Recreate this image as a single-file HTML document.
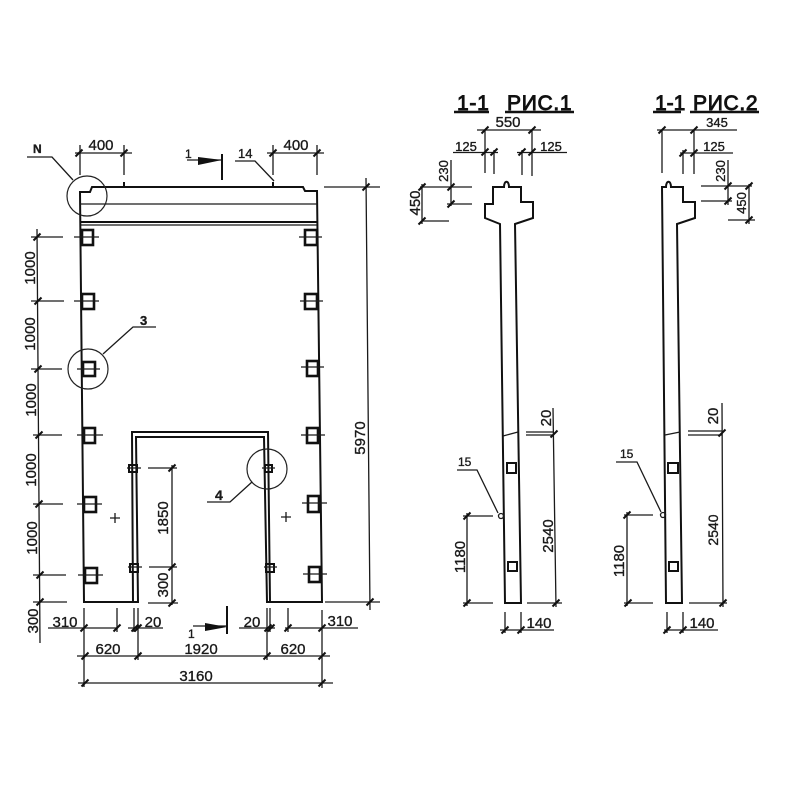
<!DOCTYPE html>
<html lang="ru">
<head>
<meta charset="utf-8">
<title>Чертёж панели</title>
<style>
html,body{margin:0;padding:0;background:#fff;width:800px;height:800px;overflow:hidden}
svg{display:block;filter:blur(.35px)}
text{font-family:"Liberation Sans",sans-serif;font-size:15px;fill:#1a1a1a;stroke:#1a1a1a;stroke-width:.35}
.m{text-anchor:middle}
.l{fill:none;stroke:#1a1a1a;stroke-width:1.3}
.k{fill:none;stroke:#111;stroke-width:2}
.h{fill:none;stroke:#111;stroke-width:2.6}
.c{fill:none;stroke:#222;stroke-width:1.2}
.ti{font-size:21px;stroke-width:.9;fill:#111;stroke:#111;letter-spacing:.7px}
</style>
</head>
<body>
<svg width="800" height="800" viewBox="0 0 800 800" xmlns="http://www.w3.org/2000/svg">
<defs><path id="t" d="M-3.5 3.5L3.5-3.5" fill="none" stroke="#111" stroke-width="2"/></defs>

<!-- Main panel outline -->
<path class="k" d="M84 602L80 192H90L92 187H303L305 191H317L322 602H267L264 437H136L138 602Z"/>
<path class="k" d="M133 602L132 432H268L270 602" stroke-width="1.8"/>
<path class="l" d="M80 204H317"/>
<path class="k" d="M80 222H317"/>
<path class="l" d="M80 225H317"/>
<path class="k" d="M124 187v-5M273 187v-5"/>

<!-- Big inserts -->
<g class="h">
<rect class="h" x="82" y="230" width="11" height="15"/>
<rect class="h" x="82" y="294" width="12" height="15"/>
<rect class="h" x="83" y="362" width="12" height="14"/>
<rect class="h" x="84" y="428" width="11" height="15"/>
<rect class="h" x="84" y="497" width="12" height="15"/>
<rect class="h" x="85" y="568" width="12" height="15"/>
<rect class="h" x="305" y="230" width="12" height="15"/>
<rect class="h" x="305" y="294" width="12" height="15"/>
<rect class="h" x="307" y="361" width="11" height="15"/>
<rect class="h" x="307" y="428" width="11" height="15"/>
<rect class="h" x="308" y="496" width="11" height="16"/>
<rect class="h" x="309" y="567" width="11" height="15"/>
</g>
<path class="l" d="M74 237H99M74 301H99M77 369H100M77 435H103M77 504H102M78 575H103M299 237H322M300 301H323M301 367H324M301 435H325M302 503H327M303 574H327"/>

<!-- Small inserts -->
<rect class="k" x="129" y="465" width="8" height="7" stroke-width="1.5"/>
<rect class="k" x="130" y="564" width="8" height="8" stroke-width="1.5"/>
<rect class="k" x="265" y="465" width="7" height="7" stroke-width="1.5"/>
<rect class="k" x="266" y="564" width="8" height="8" stroke-width="1.5"/>
<path class="l" d="M127 468H141M128 567H142M262 468H275M264 567H277"/>
<path class="l" d="M110 518H120M115 513V523M281 517H291M286 512V522"/>

<!-- Circles -->
<circle class="c" cx="87" cy="196" r="20"/>
<circle class="c" cx="88" cy="369" r="20"/>
<circle class="c" cx="267" cy="469" r="20"/>
<path class="l" d="M27 157H52L73 180M156 327H133L103 354M207 502H230L252 482M235 161H255L274 181"/>
<text x="33" y="153" style="font-size:12px;font-weight:bold">N</text>
<text x="140" y="325" style="font-size:13px;font-weight:bold">3</text>
<text x="215" y="500" style="font-size:14px;font-weight:bold">4</text>
<text x="238" y="158" style="font-size:13px">14</text>

<!-- Section arrows -->
<path class="l" d="M187 160H222"/>
<path d="M198 157L222 160L198 165Z" fill="#111"/>
<path class="k" d="M222 154V180"/>
<text x="185" y="158" style="font-size:12px">1</text>
<path class="l" d="M193 626H227"/>
<path d="M205 623L227 627L205 631Z" fill="#111"/>
<path class="k" d="M227 606V634"/>
<text x="188" y="638" style="font-size:12px">1</text>

<!-- Top dims -->
<path class="l" d="M75 153H132M267 153H324M80 145V175M124 145V175M273 145V175M317 145V175"/>
<use href="#t" x="79" y="153"/><use href="#t" x="124" y="153"/><use href="#t" x="273" y="153"/><use href="#t" x="317" y="153"/>
<text class="m" x="101" y="150">400</text>
<text class="m" x="296" y="150">400</text>

<!-- Left dims -->
<path class="l" d="M37 229L40 643M31 237H63M31 301H64M31 369H62M33 435H62M33 504H63M33 575H66M33 602H67"/>
<use href="#t" x="37" y="237"/><use href="#t" x="38" y="301"/><use href="#t" x="38" y="369"/><use href="#t" x="39" y="435"/><use href="#t" x="39" y="504"/><use href="#t" x="40" y="575"/><use href="#t" x="40" y="602"/>
<text class="m" transform="translate(35,268) rotate(-90)">1000</text>
<text class="m" transform="translate(35,334) rotate(-90)">1000</text>
<text class="m" transform="translate(36,400) rotate(-90)">1000</text>
<text class="m" transform="translate(36,470) rotate(-90)">1000</text>
<text class="m" transform="translate(37,538) rotate(-90)">1000</text>
<text class="m" transform="translate(38,621) rotate(-90)">300</text>

<!-- Right 5970 -->
<path class="l" d="M366 178L370 610M324 187H380M325 602H380"/>
<use href="#t" x="366" y="187"/><use href="#t" x="370" y="602"/>
<text class="m" transform="translate(365,438) rotate(-90)">5970</text>

<!-- Opening dims -->
<path class="l" d="M172 465V605M148 468H177M149 567H177M148 603H178"/>
<use href="#t" x="172" y="468"/><use href="#t" x="172" y="567"/><use href="#t" x="172" y="603"/>
<text class="m" transform="translate(168,518) rotate(-90)">1850</text>
<text class="m" transform="translate(168,585) rotate(-90)">300</text>

<!-- Bottom dims -->
<path class="l" d="M48 628H118M128 628H163M239 628H275M285 628H358M77 656H330M78 683H333"/>
<path class="l" d="M84 608V687M117 608V632M134 608V632M138 608V660M267 608V660M270 608V632M288 608V632M322 610V688"/>
<use href="#t" x="84" y="628"/><use href="#t" x="117" y="628"/><use href="#t" x="135" y="628"/><use href="#t" x="138" y="628"/><use href="#t" x="268" y="628"/><use href="#t" x="271" y="628"/><use href="#t" x="288" y="628"/><use href="#t" x="322" y="628"/>
<use href="#t" x="85" y="656"/><use href="#t" x="138" y="656"/><use href="#t" x="267" y="656"/><use href="#t" x="322" y="656"/>
<use href="#t" x="85" y="683"/><use href="#t" x="322" y="683"/>
<text class="m" x="65" y="627">310</text>
<text class="m" x="153" y="627">20</text>
<text class="m" x="252" y="627">20</text>
<text class="m" x="340" y="626">310</text>
<text class="m" x="108" y="654">620</text>
<text class="m" x="201" y="654">1920</text>
<text class="m" x="293" y="654">620</text>
<text class="m" x="196" y="681">3160</text>

<!-- Section 1 -->
<text class="ti" x="457" y="110">1-1</text>
<text class="ti" x="507" y="110">РИС.1</text>
<path class="h" d="M454 112H489M505 112H574"/>
<path class="k" d="M505 603L500 224L485 218V204H493V187H504C504 180 509 180 509 187H521V202H533V218L515 224L521 603Z"/>
<path class="l" d="M503 436L518 432"/>
<rect class="k" x="507" y="463" width="9" height="10" stroke-width="1.5"/>
<rect class="k" x="508" y="562" width="9" height="9" stroke-width="1.5"/>
<path class="l" d="M457 470H477L498 513"/>
<circle class="l" cx="501" cy="516" r="2.5"/>
<text x="458" y="466" style="font-size:12px">15</text>
<path class="l" d="M477 130H541M453 152.500H498M517 152.500H567M485 130V173M494 150V174M522 150V175M532 130V176"/>
<use href="#t" x="485" y="130"/><use href="#t" x="532" y="130"/><use href="#t" x="485" y="152"/><use href="#t" x="494" y="152"/><use href="#t" x="522" y="152"/><use href="#t" x="532" y="152"/>
<text class="m" x="508" y="127">550</text>
<text class="m" x="466" y="151" style="font-size:13px">125</text>
<text class="m" x="551" y="151" style="font-size:13px">125</text>
<path class="l" d="M451 160V206M420 187H472M447 204H472M422 184V224M422 221H449"/>
<use href="#t" x="451" y="187"/><use href="#t" x="451" y="204"/><use href="#t" x="422" y="187"/><use href="#t" x="422" y="221"/>
<text class="m" transform="translate(448,171) rotate(-90)" style="font-size:13px">230</text>
<text class="m" transform="translate(420,203) rotate(-90)">450</text>
<path class="l" d="M467 513V606M463 516H493M463 603H493"/>
<use href="#t" x="467" y="516"/><use href="#t" x="467" y="603"/>
<text class="m" transform="translate(465,557) rotate(-90)">1180</text>
<path class="l" d="M553 408L556 607M526 432H553M526 435H553M527 603H562"/>
<use href="#t" x="554" y="434"/><use href="#t" x="556" y="603"/>
<text class="m" transform="translate(553,536) rotate(-90)">2540</text>
<text class="m" transform="translate(551,418) rotate(-90)">20</text>
<path class="l" d="M500 630H554M505 612V633M521 612V633"/>
<use href="#t" x="505" y="630"/><use href="#t" x="521" y="630"/>
<text class="m" x="539" y="628">140</text>

<!-- Section 2 -->
<text class="ti" x="655" y="110" style="letter-spacing:0">1-1</text>
<text class="ti" x="693" y="110">РИС.2</text>
<path class="h" d="M653 112H681M690 112H759"/>
<path class="k" d="M666 603L662 187H666C666 180 671 180 671 187H683V202H695V218L677 224L682 603Z"/>
<path class="l" d="M665 435L680 432"/>
<rect class="k" x="668" y="463" width="10" height="10" stroke-width="1.5"/>
<rect class="k" x="669" y="562" width="9" height="9" stroke-width="1.5"/>
<path class="l" d="M616 462H637L661 512"/>
<circle class="l" cx="663" cy="515" r="2.500"/>
<text x="620" y="458" style="font-size:12px">15</text>
<path class="l" d="M657 130H737M680 153H733M662 130V173M683 150V174M694 130V174"/>
<use href="#t" x="662" y="130"/><use href="#t" x="694" y="130"/><use href="#t" x="683" y="153"/><use href="#t" x="694" y="153"/>
<text class="m" x="717" y="127" style="font-size:13px">345</text>
<text class="m" x="714" y="151" style="font-size:13px">125</text>
<path class="l" d="M728 160V205M701 186H752M701 201H732M749 184V224M728 220H755"/>
<use href="#t" x="728" y="186"/><use href="#t" x="728" y="201"/><use href="#t" x="749" y="186"/><use href="#t" x="749" y="220"/>
<text class="m" transform="translate(725,171) rotate(-90)" style="font-size:13px">230</text>
<text class="m" transform="translate(746,203) rotate(-90)" style="font-size:13px">450</text>
<path class="l" d="M627 512V606M624 515H653M624 603H653"/>
<use href="#t" x="627" y="515"/><use href="#t" x="628" y="603"/>
<text class="m" transform="translate(624,561) rotate(-90)">1180</text>
<path class="l" d="M722 403L723 607M688 431H722M688 435H722M689 603H727"/>
<use href="#t" x="722" y="433"/><use href="#t" x="723" y="603"/>
<text class="m" transform="translate(718,530) rotate(-90)" style="font-size:14px">2540</text>
<text class="m" transform="translate(718,416) rotate(-90)">20</text>
<path class="l" d="M664 630H718M667 612V633M683 612V633"/>
<use href="#t" x="667" y="630"/><use href="#t" x="683" y="630"/>
<text class="m" x="702" y="628">140</text>
</svg>
</body>
</html>
